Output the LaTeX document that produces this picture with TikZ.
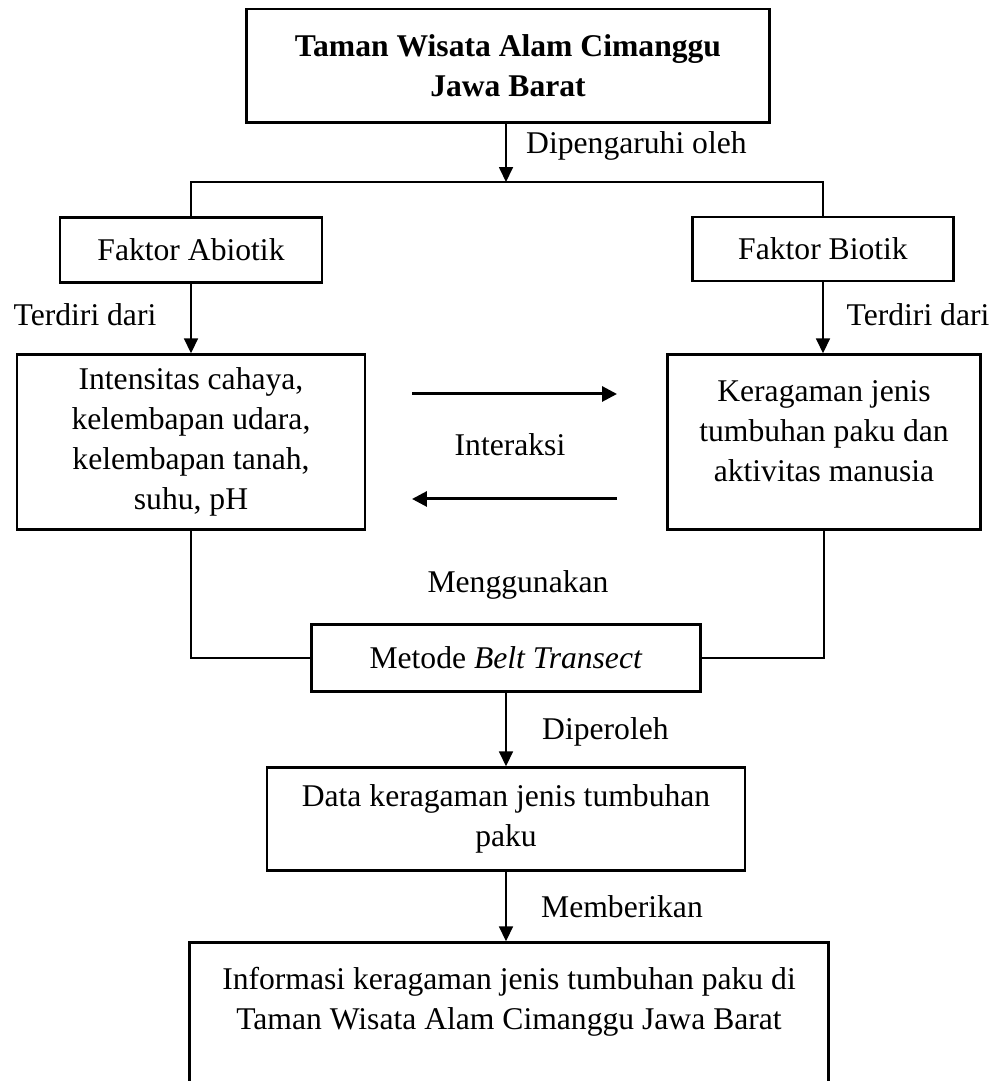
\documentclass[tikz,border=0pt]{standalone}
\usepackage{fontspec}
\setmainfont{Liberation Serif}
\usepackage{tikz}
\usetikzlibrary{
    arrows.meta,
    positioning
}

\begin{document}
\begin{tikzpicture}[x=0.02cm,y=0.02cm,
    font=\fontsize{18pt}{22.8pt}\selectfont,
    box/.style={draw, line width=1.4pt, align=center, inner sep=0pt},
    conn/.style={line width=0.8pt},
    arr/.style={line width=0.8pt, -{Triangle[length=8.5pt,width=8pt]}},
    bigarr/.style={line width=1.7pt, -{Triangle[length=8.5pt,width=8.5pt]}}]

\useasboundingbox (0,0) rectangle (992,1081);
\clip (0,0) rectangle (992,1081);

% Boxes
\node[box, minimum width=10.47cm, minimum height=2.27cm] (top) at (508,1015)
    {\textbf{Taman Wisata Alam Cimanggu}\\\textbf{Jawa Barat}};
\node[box, minimum width=5.24cm, minimum height=1.3cm] (abio) at (191,831)
    {Faktor Abiotik};
\node[box, minimum width=5.22cm, minimum height=1.28cm] (bio) at (823,832)
    {Faktor Biotik};
\node[box, minimum width=6.96cm, minimum height=3.5cm] (intens) at (191,639)
    {Intensitas cahaya,\\kelembapan udara,\\kelembapan tanah,\\suhu, pH};
\node[box, minimum width=6.26cm, minimum height=3.5cm] (kerag) at (824,639) {};
\node[align=center] (keragtext) at (824,650)
    {Keragaman jenis\\tumbuhan paku dan\\aktivitas manusia};
\node[box, minimum width=7.78cm, minimum height=1.34cm] (metode) at (506,423)
    {Metode \textit{Belt Transect}};
\node[box, minimum width=9.56cm, minimum height=2.06cm] (data) at (506,262)
    {Data keragaman jenis tumbuhan\\paku};
\node[box, minimum width=12.78cm, minimum height=3.58cm] (info) at (509,49) {};
\node[align=center] (infotext) at (509,79)
    {Informasi keragaman jenis tumbuhan paku di\\Taman Wisata Alam Cimanggu Jawa Barat};

% Labels
\node[right] (dipeng) at (520,935) {Dipengaruhi oleh};
\node (terdl) at (85,766) {Terdiri dari};
\node (terdr) at (918,766) {Terdiri dari};
\node (interaksi) at (510,636) {Interaksi};
\node (meng) at (518,496) {Menggunakan};
\node[right] (diper) at (536,349) {Diperoleh};
\node[right] (membe) at (535,174) {Memberikan};

% Connectors
\coordinate (fork) at (506,899);
\draw[arr] (top.south -| fork) -- (fork);
\draw[conn] (abio.north) |- (fork) -| (bio.north);
\draw[arr] (abio.south) -- (intens.north);
\draw[arr] (bio.south) -- (bio.south |- kerag.north);
\draw[conn] (intens.south) |- (metode.west);
\draw[conn] (kerag.south) |- (metode.east);
\draw[arr] (metode.south) -- (data.north);
\draw[arr] (data.south) -- (info.north -| data.south);

% Interaksi
\coordinate (ia) at (412,687);
\coordinate (ib) at (617,687);
\coordinate (ic) at (617,582);
\coordinate (id) at (412,582);
\draw[bigarr] (ia) -- (ib);
\draw[bigarr] (ic) -- (id);

\end{tikzpicture}
\end{document}
